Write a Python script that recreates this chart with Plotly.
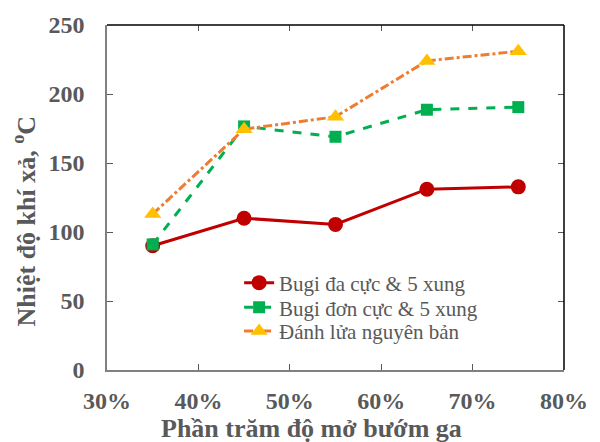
import plotly.graph_objects as go

x_vals = [0.35, 0.45, 0.55, 0.65, 0.75]
red_vals = [90, 110, 105.5, 131, 132.7]
green_vals = [91, 176.5, 169, 188.6, 190.5]
orange_vals = [113, 174.5, 183.5, 224, 231]
names = ["Bugi đa cực & 5 xung", "Bugi đơn cực & 5 xung", "Đánh lửa nguyên bản"]
x_title = "Phần trăm độ mở bướm ga"
y_title = "Nhiệt độ khí xả, <sup>o</sup>C"

SERIF = "Liberation Serif, Times New Roman, serif"
L, R, T, B = 107, 26, 21, 72
PW, PH = 600 - L - R, 442 - T - B

fig = go.Figure()
fig.add_trace(go.Scatter(x=x_vals, y=red_vals, name=names[0], mode="lines+markers",
                         line=dict(color="#C00000", width=3),
                         marker=dict(symbol="circle", size=15, color="#C00000"),
                         legend="legend"))
fig.add_trace(go.Scatter(x=x_vals, y=green_vals, name=names[1], mode="lines+markers",
                         line=dict(color="#00B050", width=3, dash="dash"),
                         marker=dict(symbol="square", size=12, color="#00B050"),
                         legend="legend2"))
fig.add_trace(go.Scatter(x=x_vals, y=orange_vals, name=names[2], mode="lines+markers",
                         line=dict(color="#ED7D31", width=3, dash="dashdot"),
                         marker=dict(symbol="triangle-up", size=15, color="#FFC000"),
                         legend="legend3"))

tickfont = dict(family=SERIF, size=24, color="#595959", weight="bold")
titlefont = dict(family=SERIF, size=26, color="#595959", weight="bold")
legfont = dict(family=SERIF, size=21, color="#595959")


def leg(row_y):
    return dict(x=(242 - L) / PW, y=(370 - row_y) / PH, xanchor="left", yanchor="middle",
                font=legfont, bgcolor="rgba(0,0,0,0)", itemwidth=30)


fig.update_layout(
    width=600, height=442,
    margin=dict(l=L, r=R, t=T, b=B),
    plot_bgcolor="white", paper_bgcolor="white",
    font=dict(family=SERIF),
    showlegend=True,
    legend=leg(282), legend2=leg(307), legend3=leg(331),
    xaxis=dict(range=[0.30, 0.80], dtick=0.1, tickformat=".0%",
               showgrid=False, zeroline=False,
               showline=True, linecolor="#808080", linewidth=1.5,
               ticks="inside", ticklen=6, tickcolor="#595959",
               tickfont=tickfont, ticklabelstandoff=8),
    yaxis=dict(range=[0, 250], dtick=50,
               showgrid=False, zeroline=False,
               showline=True, linecolor="#808080", linewidth=1.5,
               ticks="inside", ticklen=6, tickcolor="#595959",
               tickfont=tickfont, ticklabelstandoff=16),
)

fig.add_annotation(text=x_title, xref="paper", yref="paper", x=(316 - L) / PW,
                   y=-(429 - 370) / PH, xanchor="center", yanchor="middle",
                   showarrow=False, font=titlefont)
fig.add_annotation(text=y_title, xref="paper", yref="paper", x=-(L - 23) / PW,
                   y=(370 - 219) / PH, xanchor="center", yanchor="middle",
                   textangle=-90, showarrow=False, font=titlefont)

# top and right frame lines with inside ticks
fig.add_shape(type="line", xref="paper", yref="paper", x0=0, x1=1, y0=1, y1=1,
              line=dict(color="black", width=1.5))
fig.add_shape(type="line", xref="paper", yref="paper", x0=1, x1=1, y0=0, y1=1,
              line=dict(color="black", width=1.5))
fig.update_layout(
    xaxis2=dict(overlaying="x", side="top", range=[0.30, 0.80], dtick=0.1,
                showticklabels=False, ticks="inside", ticklen=6, tickcolor="#595959",
                showgrid=False, zeroline=False, matches="x"),
    yaxis2=dict(overlaying="y", side="right", range=[0, 250], dtick=50,
                showticklabels=False, ticks="inside", ticklen=6, tickcolor="#595959",
                showgrid=False, zeroline=False, matches="y"),
)
fig.add_trace(go.Scatter(x=[None], y=[None], xaxis="x2", yaxis="y2", showlegend=False,
                         hoverinfo="skip"))

fig.write_html("out.html")
